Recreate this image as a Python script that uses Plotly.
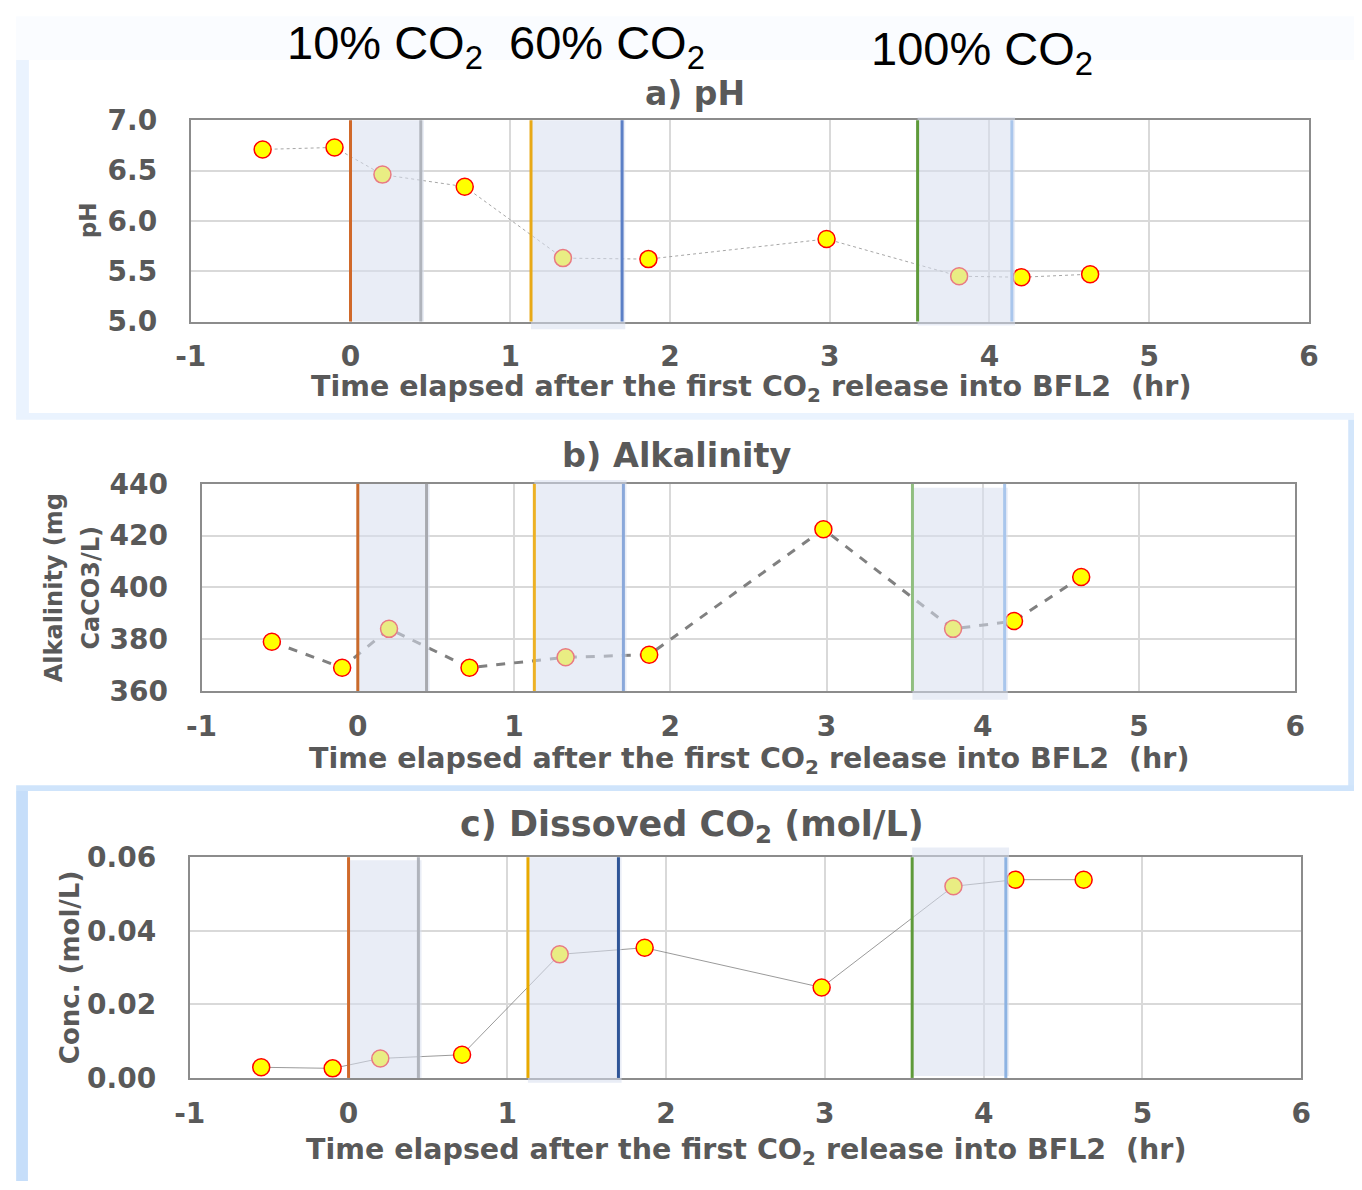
import plotly.graph_objects as go

# ---------------- data ----------------
time_hr = [-0.55, -0.10, 0.20, 0.715, 1.33, 1.865, 2.98, 3.81, 4.20, 4.63]
ph_values = [6.71, 6.73, 6.46, 6.34, 5.63, 5.62, 5.82, 5.45, 5.44, 5.47]
alkalinity = [379, 369, 384, 369, 373, 374, 422.5, 384, 387, 404]
dissolved_co2 = [0.0029, 0.0026, 0.0053, 0.0063, 0.0336, 0.0354, 0.0246, 0.0521, 0.0539, 0.0539]

# CO2 release periods (start, stop) in hours
release_periods = [(0.0, 0.44), (1.13, 1.70), (3.55, 4.14)]
release_labels = ["10% CO<sub>2</sub>", "60% CO<sub>2</sub>", "100% CO<sub>2</sub>"]

x_ticks = [-1, 0, 1, 2, 3, 4, 5, 6]
x_tick_labels = ["-1", "0", "1", "2", "3", "4", "5", "6"]
ph_ticks = [5.0, 5.5, 6.0, 6.5, 7.0]
alk_ticks = [360, 380, 400, 420, 440]
co2_ticks = [0.00, 0.02, 0.04, 0.06]

# ---------------- layout helpers ----------------
W, H = 1362, 1190
OFF = 8  # page body margin offset of the rendered figure
def px(x):
    return (x - OFF) / W
def py(y):
    return 1 - (y - OFF) / H

GRAY = "#595959"
FONT = "DejaVu Sans"

fig = go.Figure()

panels = [
    dict(y=ph_values, xdom=(178, 1318), ydom=(107, 314), yrange=[5.0, 7.0], ticks=ph_ticks,
         fmt=".1f", line=dict(color="#A6A6A6", width=1, dash="dot"),
         vcol=["#D0692A", "#B0B4BC", "#E8A917", "#5B7FC6", "#5E9A3A", "#A9C6EC"],
         rect_y=[(107, 314), (107, 322), (104, 318)]),
    dict(y=alkalinity, xdom=(189, 1304), ydom=(481, 694), yrange=[360, 440], ticks=alk_ticks,
         fmt="d", line=dict(color="#808080", width=3, dash="dash"),
         vcol=["#C96A2C", "#A8AAB0", "#EDB124", "#8AA8DA", "#90BE80", "#A9C6EC"],
         rect_y=[(481, 694), (477, 694), (485, 703)]),
    dict(y=dissolved_co2, xdom=(177, 1310), ydom=(865, 1092), yrange=[0, 0.06], ticks=co2_ticks,
         fmt=".2f", line=dict(color="#808080", width=0.8),
         vcol=["#D06A2C", "#B0B4BC", "#E8A900", "#2F5597", "#5E9A3A", "#8DB3E2"],
         rect_y=[(868, 1092), (865, 1097), (855, 1090)]),
]

shapes = []
# background decoration (paper)
bg = [
    (0, 0, W + OFF, 45, "#FAFCFF"),
    (0, 45, 13, 410, "#EAF3FE"),
    (0, 408, W + OFF, 415, "#EAF3FE"),
    (1358, 415, W + OFF, 797, "#D3E6FB"),
    (0, 791, W + OFF, 797, "#CFE4FB"),
    (0, 797, 12, H + OFF, "#C6DEFA"),
]
for x0, y0, x1, y1, c in bg:
    shapes.append(dict(type="rect", xref="paper", yref="paper", x0=px(x0), x1=px(x1), y0=py(y1), y1=py(y0),
                       fillcolor=c, line=dict(width=0), layer="below"))

for i, p in enumerate(panels):
    n = "" if i == 0 else str(i + 1)
    xa, ya = "x" + n, "y" + n
    fig.add_trace(go.Scatter(
        x=time_hr, y=p["y"], mode="lines+markers", xaxis=xa, yaxis=ya,
        line=p["line"],
        marker=dict(size=17, color="#FFFF00", line=dict(color="#FF0000", width=1.5)),
        showlegend=False, cliponaxis=False, hoverinfo="skip"))
    axis_common = dict(showline=True, mirror=True, linecolor="#8C8C8C", linewidth=2,
                       showgrid=True, gridcolor="#D9D9D9", gridwidth=1.5, zeroline=False,
                       ticks="", tickfont=dict(family=FONT, size=28, color=GRAY, weight="bold"))
    fig.update_layout(**{
        "xaxis" + n: dict(domain=[px(p["xdom"][0]), px(p["xdom"][1])], range=[-1, 6],
                          tickvals=x_ticks, ticktext=x_tick_labels, anchor=ya,
                          ticklabelstandoff=9, **axis_common),
        "yaxis" + n: dict(domain=[py(p["ydom"][1]), py(p["ydom"][0])], range=p["yrange"],
                          tickvals=p["ticks"], tickformat=p["fmt"], anchor=xa,
                          ticklabelstandoff=26, **axis_common),
    })
    # shaded release periods (drawn over markers, semi-transparent)
    for (t0, t1), (ry0, ry1) in zip(release_periods, p["rect_y"]):
        shapes.append(dict(type="rect", xref=xa, yref="paper", x0=t0, x1=t1 + 0.02,
                           y0=py(ry1), y1=py(ry0), fillcolor="rgb(215,222,239)", opacity=0.55,
                           line=dict(width=0), layer="above"))
    # vertical event lines
    ev = [t for per in release_periods for t in per]
    for t, c in zip(ev, p["vcol"]):
        shapes.append(dict(type="line", xref=xa, yref=ya + " domain", x0=t, x1=t, y0=0, y1=1,
                           line=dict(color=c, width=3), layer="above"))

fig.update_layout(shapes=shapes)

ann = []
def text(x, y, s, size, color=GRAY, bold=True, angle=0, family=FONT):
    ann.append(dict(xref="paper", yref="paper", x=px(x), y=py(y), text=s, showarrow=False,
                    xanchor="center", yanchor="middle", textangle=angle,
                    font=dict(family=family, size=size, color=color, weight="bold" if bold else "normal")))

xtitle = "Time elapsed after the first CO<sub>2</sub> release into BFL2  (hr)"
text(749, 383, xtitle, 28.5)
text(747, 766, xtitle, 28.5)
text(744, 1168, xtitle, 28.5)
text(692, 79, "a) pH", 33)
text(674, 452, "b) Alkalinity", 33.5)
text(689, 833, "c) Dissoved CO<sub>2</sub> (mol/L)", 35)
text(74, 210, "pH", 23, angle=-90)
text(39, 588, "Alkalinity (mg", 24, angle=-90)
text(76, 588, "CaCO3/L)", 24, angle=-90)
text(55, 978, "Conc. (mol/L)", 26, angle=-90)
top_font = "Liberation Sans"
text(489, 31, release_labels[0] + "  " + release_labels[1], 47, color="#000000", bold=False, family=top_font)
text(985, 37, release_labels[2], 47, color="#000000", bold=False, family=top_font)
fig.update_layout(annotations=ann)

fig.update_layout(width=W, height=H, margin=dict(l=0, r=0, t=0, b=0),
                  paper_bgcolor="white", plot_bgcolor="white", hovermode=False)
fig.write_html("out.html", config={"displayModeBar": False})
